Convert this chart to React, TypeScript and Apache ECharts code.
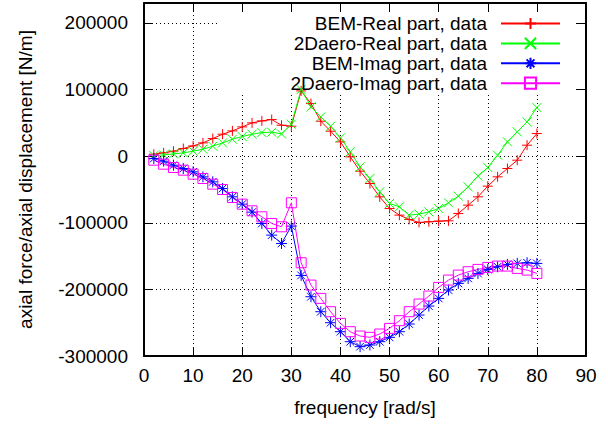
import React, { useEffect, useRef } from "react";
import * as echarts from "echarts";

const FONT = "'Liberation Sans', Arial, Helvetica, sans-serif";

const frequency = [
  2, 4, 6, 8, 10, 12, 14, 16, 18, 20, 22, 24, 26, 28, 30, 32, 34, 36, 38, 40,
  42, 44, 46, 48, 50, 52, 54, 56, 58, 60, 62, 64, 66, 68, 70, 72, 74, 76, 78, 80,
];

const bemReal = [
  3000, 5000, 7500, 11500, 15500, 20000, 26500, 33000, 38000, 44000,
  50000, 53000, 55000, 46500, 45000, 98000, 79000, 52500, 37500, 21500,
  -1000, -22500, -41000, -61000, -78500, -88500, -95000, -99500, -98500, -97500,
  -97000, -86000, -73500, -61000, -45000, -31000, -18500, -6000, 16500, 34000,
];

const daeroReal = [
  1000, 2000, 3500, 5000, 7500, 10500, 15000, 20000, 25500, 29500,
  33000, 35500, 36000, 33500, 48000, 100000, 74000, 59000, 45000, 27500,
  6500, -16000, -33500, -53500, -71000, -76000, -88500, -87000, -83500, -78500,
  -70000, -60000, -46000, -30000, -17000, 1500, 21500, 36500, 51500, 73000,
];

const bemImag = [
  -3500, -7500, -13500, -18500, -23500, -31000, -38500, -48500, -61000, -72000,
  -84000, -101000, -118500, -131000, -105000, -179000, -211000, -233500, -250000, -263500,
  -278500, -286000, -283500, -278500, -272000, -263500, -252000, -238500, -225000, -213500,
  -201000, -191000, -183500, -176000, -170000, -166000, -162500, -161000, -160000, -161000,
];

const daeroImag = [
  -6000, -12000, -17000, -21000, -27000, -33500, -42000, -50000, -62000, -72000,
  -82000, -91000, -101000, -106000, -70000, -160000, -193500, -213500, -233500, -251000,
  -263500, -270000, -272000, -267000, -258500, -247000, -233500, -222000, -210000, -197000,
  -186000, -178500, -173500, -170000, -167000, -165000, -165000, -168500, -171000, -176000,
];

const seriesNames = [
  "BEM-Real part, data",
  "2Daero-Real part, data",
  "BEM-Imag part, data",
  "2Daero-Imag part, data",
];
const seriesColors = ["#ff0000", "#00ff00", "#0000ff", "#ff00ff"];
const seriesValues = [bemReal, daeroReal, bemImag, daeroImag];

const SYM_PLUS = "path://M0,5L10,5M5,0L5,10";
const SYM_CROSS = "path://M0,0L10,10M10,0L0,10";
const SYM_STAR = "path://M0,5L10,5M5,0L5,10M1.5,1.5L8.5,8.5M8.5,1.5L1.5,8.5";
const SYM_SQUARE = "path://M0,0L10,0L10,10L0,10Z";
const symbols = [SYM_PLUS, SYM_CROSS, SYM_STAR, SYM_SQUARE];
const symbolSizes = [10, 9, 11, 10];

export default function App() {
  const ref = useRef<HTMLDivElement>(null);
  useEffect(() => {
    if (!ref.current) return;
    const chart = echarts.init(ref.current, undefined, { renderer: "svg" });

    const series = seriesNames.map((name, i) => ({
      name,
      type: "line",
      data: frequency.map((f, j) => [f, seriesValues[i][j]]),
      symbol: symbols[i],
      symbolSize: symbolSizes[i],
      symbolKeepAspect: true,
      showSymbol: true,
      lineStyle: { color: seriesColors[i], width: 1 },
      itemStyle: { color: "transparent", borderColor: seriesColors[i], borderWidth: 1 },
      emphasis: { disabled: true },
      z: 2,
    }));

    const tickStyle = { show: true, inside: true, length: 9, lineStyle: { color: "#000", width: 1 } };
    const lineAxis = { show: true, onZero: false, lineStyle: { color: "#000", width: 2 } };
    const gridLine = () => ({ show: true, lineStyle: { color: "#000", width: 1, type: [1, 3] } });

    chart.setOption({
      animation: false,
      textStyle: { fontFamily: FONT },
      grid: { left: 144, right: 22, top: 3, bottom: 69, containLabel: false },
      graphic: [
        {
          type: "rect",
          z: 1,
          silent: true,
          shape: { x: 217, y: 4, width: 359, height: 90 },
          style: { fill: "#fff" },
        },
      ],
      legend: {
        orient: "vertical",
        right: 47,
        top: 14,
        align: "right",
        itemWidth: 59,
        itemHeight: 14,
        itemGap: 0.9,
        padding: 0,
        selectedMode: false,
        data: seriesNames,
        textStyle: { fontSize: 19, color: "#000", fontFamily: FONT, padding: [0, 9, 0, 0] },
      },
      xAxis: [
        {
          type: "value",
          position: "bottom",
          min: 0,
          max: 90,
          interval: 10,
          name: "frequency [rad/s]",
          nameLocation: "middle",
          nameGap: 42,
          nameMoveOverlap: false,
          nameTextStyle: { fontSize: 19, color: "#000", fontFamily: FONT },
          axisLine: lineAxis,
          axisTick: tickStyle,
          splitLine: gridLine(),
          axisLabel: { fontSize: 19, color: "#000", margin: 10, fontFamily: FONT },
          z: 0,
        },
        {
          type: "value",
          position: "top",
          min: 0,
          max: 90,
          interval: 10,
          axisLine: lineAxis,
          axisTick: tickStyle,
          splitLine: { show: false },
          axisLabel: { show: false },
          z: 3,
        },
      ],
      yAxis: [
        {
          type: "value",
          position: "left",
          min: -300000,
          max: 230000,
          interval: 100000,
          name: "axial force/axial displacement [N/m]",
          nameLocation: "middle",
          nameRotate: 90,
          nameGap: 109,
          nameMoveOverlap: false,
          nameTextStyle: { fontSize: 19, color: "#000", fontFamily: FONT },
          axisLine: lineAxis,
          axisTick: tickStyle,
          splitLine: gridLine(),
          axisLabel: {
            fontSize: 19,
            color: "#000",
            margin: 16,
            showMaxLabel: false,
            fontFamily: FONT,
            formatter: (v: number) => String(v),
          },
          z: 0,
        },
        {
          type: "value",
          position: "right",
          min: -300000,
          max: 230000,
          interval: 100000,
          axisLine: lineAxis,
          axisTick: tickStyle,
          splitLine: { show: false },
          axisLabel: { show: false },
          z: 3,
        },
      ],
      series,
    });
    return () => chart.dispose();
  }, []);
  return (
    <div
      ref={ref}
      style={{ position: "fixed", left: 0, top: 0, width: 608, height: 425, background: "#fff" }}
    />
  );
}
